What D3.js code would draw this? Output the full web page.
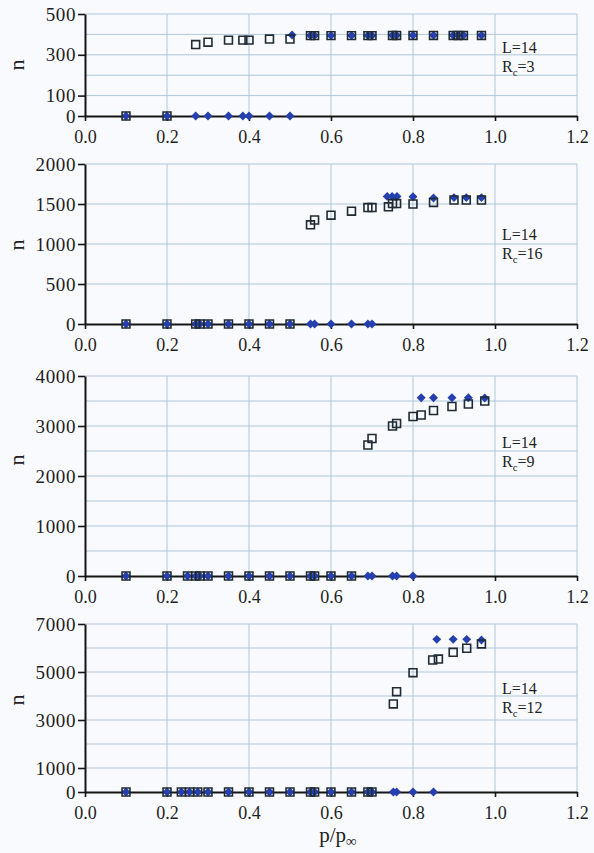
<!DOCTYPE html>
<html>
<head>
<meta charset="utf-8">
<script src="https://cdn.jsdelivr.net/npm/d3@7"></script>
<style>
  body { margin: 0; background: #f9fafd; }
  svg { display: block; font-family: "Liberation Serif", "Times New Roman", serif; }
</style>
</head>
<body>
<svg id="chart" width="594" height="853"></svg>
<script>
// x axis
const xTicks = [0, 0.2, 0.4, 0.6, 0.8, 1.0, 1.2]

// panel 1 : L=14, Rc=3   ([p/p_inf, n])
const rc3Squares = [[0.10,0],[0.20,0],[0.27,350],[0.30,362],[0.35,372],[0.385,372],[0.40,372],[0.45,377],[0.50,377],
  [0.55,394],[0.56,394],[0.60,394],[0.65,394],[0.69,394],[0.70,394],[0.75,395],[0.76,395],[0.80,395],[0.85,395],
  [0.898,395],[0.91,395],[0.923,395],[0.967,395]]
const rc3Diamonds = [[0.10,0],[0.20,0],[0.27,0],[0.30,0],[0.35,0],[0.385,0],[0.40,0],[0.45,0],[0.50,0],[0.505,397],
  [0.55,395],[0.56,395],[0.60,395],[0.65,395],[0.69,395],[0.70,395],[0.75,396],[0.76,396],[0.80,396],[0.85,396],
  [0.898,396],[0.91,396],[0.923,396],[0.967,396]]

// panel 2 : L=14, Rc=16
const rc16Squares = [[0.10,0],[0.20,0],[0.27,0],[0.28,0],[0.30,0],[0.35,0],[0.40,0],[0.45,0],[0.50,0],
  [0.55,1240],[0.56,1300],[0.60,1360],[0.65,1410],[0.69,1455],[0.70,1455],[0.74,1465],[0.75,1505],[0.76,1505],
  [0.80,1500],[0.85,1520],[0.90,1550],[0.93,1550],[0.967,1550]]
const rc16Diamonds = [[0.10,0],[0.20,0],[0.27,0],[0.28,0],[0.30,0],[0.35,0],[0.40,0],[0.45,0],[0.50,0],
  [0.55,0],[0.56,0],[0.60,0],[0.65,0],[0.69,0],[0.70,0],
  [0.737,1595],[0.749,1595],[0.761,1595],[0.80,1592],[0.85,1575],[0.90,1580],[0.93,1580],[0.967,1580]]

// panel 3 : L=14, Rc=9
const rc9Squares = [[0.10,0],[0.20,0],[0.25,0],[0.27,0],[0.28,0],[0.30,0],[0.35,0],[0.40,0],[0.45,0],[0.50,0],
  [0.55,0],[0.56,0],[0.60,0],[0.65,0],
  [0.69,2620],[0.70,2750],[0.75,3000],[0.76,3050],[0.80,3190],[0.82,3220],[0.85,3310],[0.895,3390],[0.935,3440],[0.975,3500]]
const rc9Diamonds = [[0.10,0],[0.20,0],[0.25,0],[0.27,0],[0.28,0],[0.30,0],[0.35,0],[0.40,0],[0.45,0],[0.50,0],
  [0.55,0],[0.56,0],[0.60,0],[0.65,0],[0.69,0],[0.70,0],[0.75,0],[0.76,0],[0.80,0],
  [0.82,3565],[0.85,3565],[0.895,3565],[0.935,3565],[0.975,3560]]

// panel 4 : L=14, Rc=12
const rc12Squares = [[0.10,0],[0.20,0],[0.235,0],[0.255,0],[0.275,0],[0.30,0],[0.35,0],[0.40,0],[0.45,0],[0.50,0],
  [0.55,0],[0.56,0],[0.60,0],[0.65,0],[0.69,0],[0.70,0],
  [0.752,3670],[0.76,4180],[0.80,4970],[0.848,5500],[0.862,5540],[0.898,5820],[0.931,5990],[0.967,6170]]
const rc12Diamonds = [[0.10,0],[0.20,0],[0.235,0],[0.255,0],[0.275,0],[0.30,0],[0.35,0],[0.40,0],[0.45,0],[0.50,0],
  [0.55,0],[0.56,0],[0.60,0],[0.65,0],[0.69,0],[0.70,0],[0.752,0],[0.76,0],[0.80,0],[0.85,0],
  [0.858,6360],[0.898,6360],[0.931,6360],[0.967,6330]]

const panelRc = [3, 16, 9, 12]
const panelYMax = [500, 2000, 4000, 7000]
const panelYGrid = [100, 500, 500, 1000]
const panelYLabels = [[0, 100, 300, 500], [0, 500, 1000, 1500, 2000], [0, 1000, 2000, 3000, 4000], [0, 1000, 3000, 5000, 7000]]
const panelSquares = [rc3Squares, rc16Squares, rc9Squares, rc12Squares]
const panelDiamonds = [rc3Diamonds, rc16Diamonds, rc9Diamonds, rc12Diamonds]

// layout (pixels)
const plotLeft = 85
const plotRight = 577
const layout = [
  {top: 14, bottom: 116, titleY: 65, noteY: 53},
  {top: 164, bottom: 324, titleY: 245, noteY: 240},
  {top: 376, bottom: 576, titleY: 460, noteY: 448},
  {top: 624, bottom: 792, titleY: 700, noteY: 694}
]
const serif = '"Liberation Serif", "Times New Roman", serif'
const gridColor = '#afc7d8'
const axisColor = '#151515'
const textColor = '#1e1e24'
const blue = '#2540ae'

const svg = d3.select('#chart')
const xScale = d3.scaleLinear().domain([0, 1.2]).range([plotLeft, plotRight])

panelRc.forEach((rc, i) => drawPanel(i, rc))
drawXTitle()

function drawPanel(i, rc) {
  const {top, bottom, titleY, noteY} = layout[i]
  const yScale = d3.scaleLinear().domain([0, panelYMax[i]]).range([bottom, top])
  const g = svg.append('g')

  // grid
  g.append('g').selectAll('line')
    .data(d3.range(panelYGrid[i], panelYMax[i] + 1, panelYGrid[i]))
    .join('line')
      .attr('x1', plotLeft).attr('x2', plotRight)
      .attr('y1', d => yScale(d)).attr('y2', d => yScale(d))
      .attr('stroke', gridColor).attr('stroke-width', 1)
  g.append('g').selectAll('line')
    .data(xTicks.slice(1))
    .join('line')
      .attr('x1', d => xScale(d)).attr('x2', d => xScale(d))
      .attr('y1', top).attr('y2', bottom)
      .attr('stroke', gridColor).attr('stroke-width', 1)

  // axes
  const yAxis = g.append('g')
    .attr('transform', `translate(${plotLeft},0)`)
    .call(d3.axisLeft(yScale).tickValues(panelYLabels[i]).tickSize(7).tickSizeOuter(0)
      .tickPadding(2).tickFormat(d3.format('d')))
  const xAxis = g.append('g')
    .attr('transform', `translate(0,${bottom})`)
    .call(d3.axisBottom(xScale).tickValues(xTicks).tickSize(5).tickSizeOuter(0)
      .tickPadding(9).tickFormat(d3.format('.1f')))
  ;[yAxis, xAxis].forEach(ax => {
    ax.attr('font-family', serif).attr('font-size', 18)
    ax.select('.domain').attr('stroke', axisColor).attr('stroke-width', 2)
    ax.selectAll('.tick line').attr('stroke', axisColor).attr('stroke-width', 1.6)
    ax.selectAll('text').attr('fill', textColor)
  })
  yAxis.attr('font-size', 19).selectAll('text').attr('letter-spacing', 0.6)

  // markers
  const diamond = d3.symbol(d3.symbolSquare, 40)
  g.append('g').selectAll('path')
    .data(panelDiamonds[i])
    .join('path')
      .attr('d', diamond)
      .attr('transform', d => `translate(${xScale(d[0])},${yScale(d[1])}) rotate(45)`)
      .attr('fill', blue)
  const square = d3.symbol(d3.symbolSquare, 62)
  g.append('g').selectAll('path')
    .data(panelSquares[i])
    .join('path')
      .attr('d', square)
      .attr('transform', d => `translate(${xScale(d[0])},${yScale(d[1])})`)
      .attr('fill', 'none')
      .attr('stroke', '#1f2a33')
      .attr('stroke-width', 1.6)

  // y title
  g.append('text')
    .attr('transform', `translate(24,${titleY}) rotate(-90)`)
    .attr('text-anchor', 'middle')
    .attr('fill', textColor)
    .attr('font-family', serif)
    .attr('font-size', 22)
    .text('n')

  // note
  const note = g.append('g').attr('fill', textColor).attr('font-family', serif).attr('font-size', 16)
  note.append('text').attr('x', 502).attr('y', noteY).text('L=14')
  const rcText = note.append('text').attr('x', 502).attr('y', noteY + 19)
  rcText.append('tspan').text('R')
  rcText.append('tspan').attr('dy', 4).attr('font-size', 11).text('c')
  rcText.append('tspan').attr('dy', -4).text('=' + rc)
}

function drawXTitle() {
  const t = svg.append('text')
    .attr('x', 338).attr('y', 842)
    .attr('text-anchor', 'middle')
    .attr('fill', textColor)
    .attr('font-family', serif)
    .attr('font-size', 21)
  t.append('tspan').text('p/p')
  t.append('tspan').attr('dy', 4).attr('font-size', 15).text('∞')
}
</script>
</body>
</html>
